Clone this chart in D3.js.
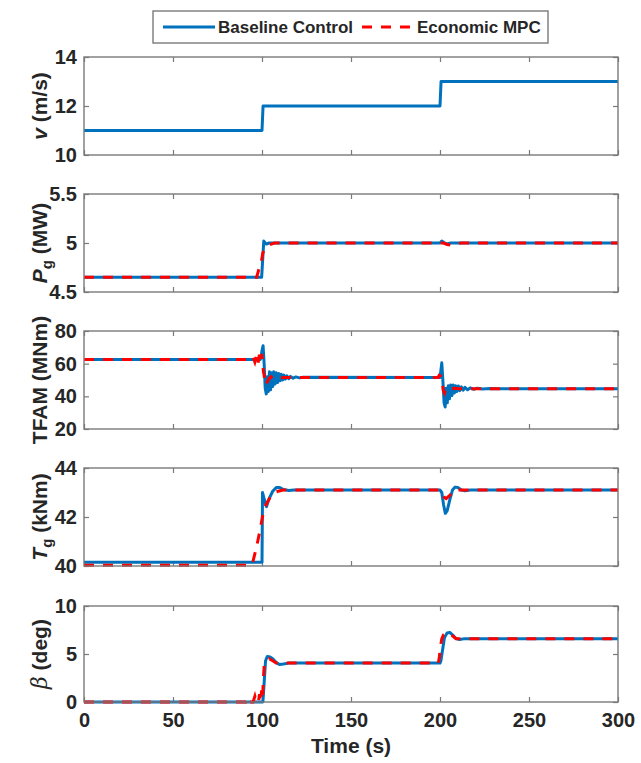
<!DOCTYPE html>
<html>
<head>
<meta charset="utf-8">
<script src="https://cdn.jsdelivr.net/npm/d3@7"></script>
<style>
  body { margin: 0; background: #fff; }
  text { font-family: "Liberation Sans", Arial, sans-serif; font-weight: bold; fill: #262626; }
</style>
</head>
<body>
<div id="chart"></div>
<script>
// wind speed (only baseline drawn)
var speedBase = [[0, 11], [100, 11], [100.6, 12], [200, 12], [200.6, 13], [300, 13]];

// generator power (MW)
var powerBase = [[0, 4.65], [99.8, 4.65], [100.6, 4.9], [101, 5.02], [101.8, 5.0], [102.5, 4.99], [104, 5.0],
  [200, 5.0], [201, 5.02], [202.5, 5.0], [204, 4.99], [206, 5.0], [300, 5.0]];
var powerMpc = [[0, 4.65], [97, 4.65], [98.5, 4.75], [99.5, 4.8], [100.5, 4.9], [102, 4.95], [104, 4.98], [107, 5.0],
  [202, 5.0], [204, 4.985], [206, 4.98], [209, 4.995], [212, 5.0], [300, 5.0]];

// tower fore-aft moment (MNm)
var tfamBase = [[0, 62.5], [99, 62.5], [99.5, 64], [100, 68], [100.6, 71], [101.2, 60], [101.8, 45], [102.4, 41.5],
  [103, 52], [103.6, 43], [104.2, 55], [104.8, 44], [105.4, 54.5], [106, 46], [106.6, 55], [107.3, 47.5], [108, 54.5],
  [108.7, 48.5], [109.4, 54], [110.1, 49.5], [110.8, 53.5], [111.5, 50], [112.3, 53], [113.1, 50.5], [114, 52.5],
  [115, 50.8], [116, 52.2], [117.5, 51.1], [119, 51.9], [121, 51.3], [123, 51.7], [200, 51.5], [200.4, 55], [201, 60.5], [201.6, 50],
  [202.3, 36], [202.9, 33.5], [203.5, 45], [204.1, 36], [204.7, 46.5], [205.3, 38.5], [206, 47], [206.7, 40.5],
  [207.4, 47], [208.1, 42], [208.8, 46.5], [209.5, 43], [210.3, 46.3], [211.1, 43.5], [212, 45.8], [213, 43.8],
  [214, 45.5], [215.5, 44], [217, 45.2], [219, 44.3], [221, 45], [224, 44.5], [228, 44.8], [232, 44.6], [300, 44.6]];
var tfamMpc = [[0, 62.5], [94, 62.5], [95, 64], [96, 61], [97, 65], [97.8, 60.5], [98.5, 65.5], [99.2, 61], [99.8, 66],
  [100.4, 61], [100.8, 55], [101.2, 53], [101.6, 48], [102.2, 47], [103, 49], [104, 51], [105, 52], [106, 51],
  [108, 51.8], [110, 51.4], [113, 51.6], [199, 51.6], [199.5, 52.8], [200.2, 52.5], [200.8, 50], [201.3, 48.5],
  [201.8, 44], [202.5, 42], [203.3, 44], [204.5, 45.5], [206, 44.5], [208, 45], [211, 44.6], [300, 44.6]];

// generator torque (kNm)
var torqueBase = [[0, 40.15], [100, 40.15], [100.3, 43.0], [101, 42.8], [102.5, 42.42], [104, 42.75], [106, 43.05],
  [108, 43.2], [110, 43.2], [112, 43.12], [115, 43.08], [118, 43.1], [200, 43.1], [201, 43.0], [202, 42.5],
  [203, 42.15], [204, 42.25], [205.5, 42.7], [207, 43.1], [208.5, 43.22], [210, 43.2], [212, 43.1], [214, 43.07],
  [217, 43.1], [300, 43.1]];
var torqueMpc = [[0, 40.03], [94, 40.03], [95, 40.2], [97, 40.8], [99, 41.5], [100.5, 42.1], [101.5, 42.4],
  [103, 42.6], [105, 42.85], [107, 43.0], [109, 43.05], [112, 43.1], [200, 43.1], [201, 43.0], [202.5, 42.8],
  [203.5, 42.75], [205, 42.85], [207, 43.0], [209, 43.1], [300, 43.1]];

// pitch angle (deg)
var pitchBase = [[0, 0], [100.5, 0], [101.2, 2], [102, 4.3], [103, 4.75], [104.5, 4.7], [106, 4.5], [108, 4.1],
  [110, 3.9], [112, 3.95], [115, 4.05], [200, 4.05], [200.5, 4.3], [201.5, 5.5], [202.5, 6.7], [204, 7.2],
  [205.5, 7.25], [207, 7.0], [209, 6.6], [211, 6.5], [214, 6.6], [300, 6.6]];
var pitchMpc = [[0, 0], [91, 0], [92, 0.4], [93, 0], [95, 0], [96, 0.6], [96.8, 0], [98, 0], [98.6, 0.8], [99.2, 0],
  [99.8, 1.2], [100.3, 0.3], [100.8, 2.5], [101.3, 4.0], [102.5, 4.2], [104, 4.5], [106, 4.3], [108, 4.05],
  [112, 4.05], [199, 4.05], [199.5, 4.5], [200.3, 5.8], [201, 6.6], [202, 7.0], [203.5, 7.2], [205, 7.2],
  [207, 6.9], [209, 6.6], [300, 6.6]];

var timeTicks = [0, 50, 100, 150, 200, 250, 300];
var speedTicks = [10, 12, 14];
var powerTicks = [4.5, 5, 5.5];
var tfamTicks = [20, 40, 60, 80];
var torqueTicks = [40, 42, 44];
var pitchTicks = [0, 5, 10];

var legendNames = ["Baseline Control", "Economic MPC"];

var width = 641, height = 763;
var left = 84, right = 618;
var blue = "#0072BD", red = "#FF0000", axisColor = "#7a7a7a";

var svg = d3.select("#chart").append("svg")
    .attr("width", width)
    .attr("height", height);

var x = d3.scaleLinear().domain([0, 300]).range([left, right]);

var panels = [
  { top: 57, h: 98, domain: [10, 14], ticks: speedTicks, series: [speedBase], label: "v" },
  { top: 194, h: 98, domain: [4.5, 5.5], ticks: powerTicks, series: [powerBase, powerMpc], label: "P" },
  { top: 331, h: 98, domain: [20, 80], ticks: tfamTicks, series: [tfamBase, tfamMpc], label: "TFAM" },
  { top: 468, h: 98, domain: [40, 44], ticks: torqueTicks, series: [torqueBase, torqueMpc], label: "T" },
  { top: 606, h: 96, domain: [0, 10], ticks: pitchTicks, series: [pitchBase, pitchMpc], label: "beta" }
];

panels.forEach(function(p, i) {
  var y = d3.scaleLinear().domain(p.domain).range([p.top + p.h, p.top]);
  var g = svg.append("g");
  var last = i === panels.length - 1;

  // inward ticks on all four sides
  g.append("g").attr("transform", "translate(" + left + ",0)")
      .call(d3.axisLeft(y).tickValues(p.ticks).tickSize(-5).tickSizeOuter(0).tickPadding(7)
        .tickFormat(d3.format("")));
  g.append("g").attr("transform", "translate(" + right + ",0)")
      .call(d3.axisRight(y).tickValues(p.ticks).tickSize(-5).tickSizeOuter(0).tickFormat(""));
  g.append("g").attr("transform", "translate(0," + p.top + ")")
      .call(d3.axisTop(x).tickValues(timeTicks).tickSize(-5).tickSizeOuter(0).tickFormat(""));
  g.append("g").attr("transform", "translate(0," + (p.top + p.h) + ")")
      .call(d3.axisBottom(x).tickValues(timeTicks).tickSize(-5).tickSizeOuter(0).tickPadding(11)
        .tickFormat(last ? d3.format("") : ""));

  g.selectAll(".domain").remove();
  g.selectAll(".tick line").attr("stroke", axisColor).attr("stroke-width", 1.2);
  g.selectAll(".tick text").attr("font-size", 20).attr("fill", "#262626")
    .attr("font-family", "Liberation Sans, Arial, sans-serif").attr("font-weight", "bold");

  var line = d3.line().x(function(d) { return x(d[0]); }).y(function(d) { return y(d[1]); });

  g.append("path").datum(p.series[0])
    .attr("d", line).attr("fill", "none").attr("stroke", blue).attr("stroke-width", 3)
    .attr("stroke-linejoin", "round");
  if (p.series[1]) {
    g.append("path").datum(p.series[1])
      .attr("d", line).attr("fill", "none").attr("stroke", red).attr("stroke-width", 3)
      .attr("stroke-dasharray", "10,9");
  }

  g.append("rect")
    .attr("x", left).attr("y", p.top).attr("width", right - left).attr("height", p.h)
    .attr("fill", "none").attr("stroke", axisColor).attr("stroke-width", 1.4);

  // y label
  var cy = p.top + p.h / 2;
  var t = svg.append("text")
    .attr("transform", "translate(47," + cy + ") rotate(-90)")
    .attr("text-anchor", "middle")
    .attr("font-size", 21);
  if (p.label === "v") {
    t.append("tspan").attr("font-style", "italic").text("v");
    t.append("tspan").text("  (m/s)");
  } else if (p.label === "P" || p.label === "T") {
    t.append("tspan").attr("font-style", "italic").text(p.label);
    t.append("tspan").attr("font-size", 15).attr("dy", 5).text("g");
    t.append("tspan").attr("dy", -5).text(p.label === "P" ? " (MW)" : " (kNm)");
  } else if (p.label === "TFAM") {
    t.text("TFAM (MNm)");
  } else {
    t.append("tspan").attr("font-family", "DejaVu Serif, serif").attr("font-style", "italic")
      .attr("font-weight", "normal").attr("font-size", 22).text("\u03B2");
    t.append("tspan").text(" (deg)");
  }
});

svg.append("text")
  .attr("x", (left + right) / 2).attr("y", 753)
  .attr("text-anchor", "middle").attr("font-size", 21)
  .text("Time (s)");

// legend
var lg = svg.append("g");
lg.append("rect").attr("x", 153).attr("y", 11).attr("width", 395).attr("height", 32)
  .attr("fill", "#fff").attr("stroke", axisColor).attr("stroke-width", 1.4);
var items = [
  { x: 163, color: blue, dash: null },
  { x: 362, color: red, dash: "10,9" }
];
items.forEach(function(it, i) {
  lg.append("line").attr("x1", it.x).attr("x2", it.x + 52).attr("y1", 27).attr("y2", 27)
    .attr("stroke", it.color).attr("stroke-width", 3).attr("stroke-dasharray", it.dash);
  lg.append("text").attr("x", it.x + 55).attr("y", 33).attr("font-size", 17).text(legendNames[i]);
});
</script>
</body>
</html>
